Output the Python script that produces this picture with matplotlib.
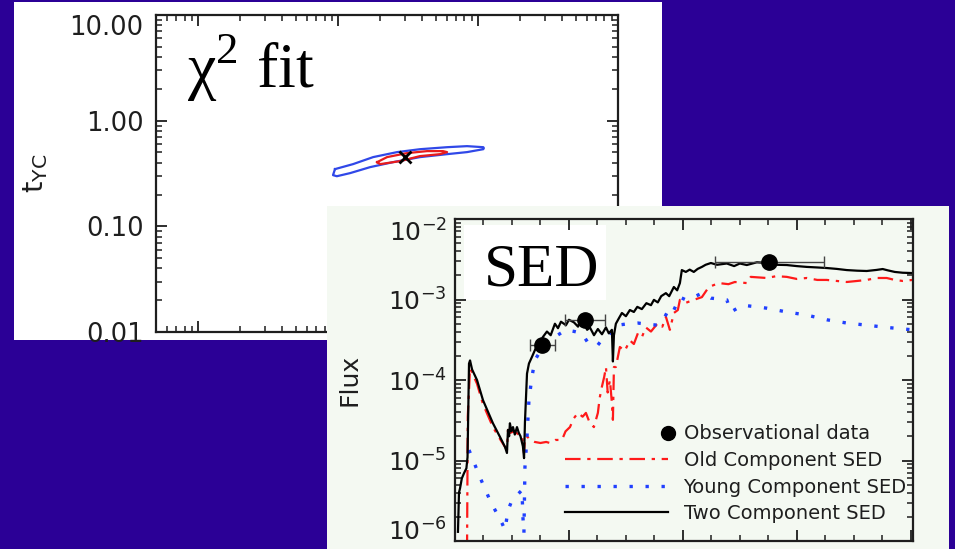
import numpy as np
import matplotlib.pyplot as plt
from matplotlib.patches import Rectangle
from matplotlib.ticker import (LogLocator, FixedLocator, FixedFormatter, MultipleLocator,
                               NullFormatter, LogFormatterSciNotation)
from matplotlib.legend_handler import HandlerLine2D

W, H = 955, 549
bg_blue = '#2b0096'
sed_bg = '#f4f9f2'
ink = '#1e1e1e'

# ---- chi2 panel data (x: log axis 0.005..10, y: t_YC) ----
chi_yticks = [0.01, 0.1, 1.0, 10.0]
chi_ylabels = ['0.01', '0.10', '1.00', '10.00']
best_fit = (0.301, 0.452)
blue_cont_x = [0.095, 0.128, 0.178, 0.264, 0.385, 0.601, 0.834, 1.09, 1.10,
               1.09, 0.834, 0.601, 0.385, 0.247, 0.169, 0.122, 0.098, 0.092, 0.095]
blue_cont_y = [0.348, 0.388, 0.452, 0.504, 0.537, 0.561, 0.574, 0.561, 0.550,
               0.537, 0.504, 0.482, 0.452, 0.405, 0.363, 0.319, 0.298, 0.305, 0.348]
red_cont_x = [0.190, 0.224, 0.311, 0.432, 0.562, 0.601, 0.535, 0.385, 0.277, 0.200, 0.190]
red_cont_y = [0.405, 0.452, 0.493, 0.515, 0.515, 0.504, 0.482, 0.462, 0.414, 0.388, 0.405]

# ---- SED panel data ----
sed_yticks = [1e-6, 1e-5, 1e-4, 1e-3, 1e-2]
two_x = [0.026, 0.035, 0.044, 0.06, 0.08, 0.10, 0.110, 0.123, 0.132, 0.15, 0.193, 0.246,
         0.333, 0.40, 0.439, 0.456, 0.465, 0.475, 0.482, 0.495, 0.509, 0.525, 0.544, 0.560,
         0.575, 0.596, 0.606, 0.614, 0.632, 0.649, 0.675, 0.702, 0.728, 0.755, 0.770, 0.807,
         0.84, 0.877, 0.904, 0.93, 0.974, 1.00, 1.044, 1.08, 1.10, 1.132, 1.16, 1.184, 1.22,
         1.254, 1.29, 1.325, 1.35, 1.377, 1.386, 1.395, 1.412, 1.44, 1.465, 1.50, 1.535, 1.57,
         1.60, 1.64, 1.68, 1.72, 1.746, 1.78, 1.81, 1.851, 1.88, 1.921, 1.95, 1.974, 1.991,
         2.026, 2.06, 2.096, 2.13, 2.167, 2.20, 2.246, 2.30, 2.386, 2.45, 2.50, 2.561, 2.65,
         2.737, 2.82, 2.912, 3.0, 3.088, 3.18, 3.263, 3.35, 3.439, 3.53, 3.614, 3.70, 3.754,
         3.80, 3.860, 3.93, 4.018]
two_f = [1.3e-6, 4.0e-6, 4.5e-6, 6.0e-6, 7.0e-6, 8.0e-6, 1.1e-5, 1.6e-4, 1.75e-4, 1.35e-4, 1.0e-4, 5.6e-5,
         2.9e-5, 1.9e-5, 1.47e-5, 1.24e-5, 2.4e-5, 2.0e-5, 2.9e-5, 2.3e-5, 2.6e-5, 2.1e-5, 2.6e-5, 2.2e-5,
         2.0e-5, 1.5e-5, 1.07e-5, 3.0e-5, 1.2e-4, 1.6e-4, 1.93e-4, 2.36e-4, 2.9e-4, 2.6e-4, 3.4e-4, 4.0e-4,
         3.6e-4, 5.0e-4, 4.4e-4, 5.3e-4, 4.8e-4, 5.6e-4, 5.2e-4, 4.6e-4, 5.6e-4, 5.0e-4, 4.2e-4, 4.5e-4, 3.6e-4,
         4.3e-4, 3.7e-4, 4.5e-4, 3.8e-4, 4.2e-4, 1.7e-4, 3.6e-4, 5.0e-4, 5.9e-4, 6.8e-4, 6.2e-4, 7.4e-4, 7.0e-4,
         8.1e-4, 7.6e-4, 9.0e-4, 8.5e-4, 9.9e-4, 9.2e-4, 1.1e-3, 1.2e-3, 1.1e-3, 1.43e-3, 1.3e-3, 1.6e-3, 2.32e-3,
         2.2e-3, 2.35e-3, 2.2e-3, 2.4e-3, 2.54e-3, 2.7e-3, 2.84e-3, 2.7e-3, 2.8e-3, 2.6e-3, 2.8e-3, 2.68e-3, 2.9e-3,
         2.84e-3, 2.7e-3, 2.68e-3, 2.6e-3, 2.54e-3, 2.5e-3, 2.46e-3, 2.4e-3, 2.32e-3, 2.28e-3, 2.26e-3, 2.33e-3, 2.39e-3,
         2.3e-3, 2.2e-3, 2.15e-3, 2.13e-3]

old_x = [0.105, 0.112, 0.132, 0.193, 0.246, 0.333, 0.40, 0.456, 0.465, 0.482, 0.52, 0.56, 0.588,
         0.606, 0.614, 0.632, 0.66, 0.70, 0.75, 0.80, 0.833, 0.88, 0.939, 0.97, 1.009, 1.04, 1.079,
         1.12, 1.149, 1.18, 1.219, 1.254, 1.27, 1.289, 1.31, 1.325, 1.34, 1.360, 1.375, 1.386, 1.395,
         1.412, 1.447, 1.49, 1.535, 1.57, 1.605, 1.64, 1.675, 1.72, 1.781, 1.82, 1.851, 1.886, 1.921,
         1.956, 1.974, 2.026, 2.096, 2.167, 2.228, 2.316, 2.40, 2.456, 2.561, 2.596, 2.737, 2.82, 2.912,
         3.0, 3.088, 3.18, 3.263, 3.35, 3.439, 3.53, 3.614, 3.70, 3.789, 3.86, 3.93, 4.018]
old_f = [5e-7, 3.5e-5, 1.4e-4, 9.0e-5, 5.0e-5, 2.6e-5, 1.8e-5, 1.35e-5, 2.4e-5, 2.2e-5, 2.3e-5, 2.1e-5, 2.07e-5,
         1.24e-5, 1.96e-5, 2.0e-5, 1.8e-5, 1.7e-5, 1.65e-5, 1.7e-5, 1.65e-5, 1.8e-5, 1.8e-5, 2.3e-5, 2.6e-5, 3.3e-5, 3.9e-5,
         3.5e-5, 3.9e-5, 3.0e-5, 2.6e-5, 3.9e-5, 6.0e-5, 8.2e-5, 1.1e-4, 1.45e-4, 7.0e-5, 1.0e-4, 5.6e-5, 3.2e-5, 1.45e-4,
         1.45e-4, 2.57e-4, 2.3e-4, 3.1e-4, 2.8e-4, 3.8e-4, 3.4e-4, 4.5e-4, 4.0e-4, 5.1e-4, 4.6e-4, 6.1e-4, 4.2e-4, 6.8e-4,
         7.4e-4, 9.9e-4, 9.1e-4, 9.9e-4, 1.07e-3, 1.43e-3, 1.6e-3, 1.55e-3, 1.65e-3, 1.6e-3, 1.91e-3, 1.85e-3, 1.95e-3, 1.91e-3,
         1.8e-3, 1.85e-3, 1.75e-3, 1.75e-3, 1.7e-3, 1.65e-3, 1.7e-3, 1.75e-3, 1.85e-3, 1.85e-3, 1.75e-3, 1.7e-3, 1.75e-3]

young_x = [0.123, 0.219, 0.307, 0.412, 0.439, 0.465, 0.500, 0.544, 0.588, 0.596, 0.605, 0.614, 0.632,
           0.649, 0.675, 0.702, 0.75, 0.833, 0.90, 0.974, 1.05, 1.114, 1.167, 1.21, 1.254, 1.30, 1.360,
           1.430, 1.52, 1.605, 1.70, 1.781, 1.84, 1.886, 1.921, 1.974, 2.026, 2.096, 2.167, 2.246, 2.386,
           2.421, 2.526, 2.737, 2.912, 3.088, 3.263, 3.439, 3.614, 3.789, 4.018]
young_f = [1.35e-5, 6.2e-6, 3.2e-6, 1.67e-6, 1.37e-6, 2.4e-6, 3.2e-6, 3.7e-6, 4.3e-6, 2.0e-6, 1.26e-6, 8.3e-6, 1.96e-5,
           5.6e-5, 1.09e-4, 1.77e-4, 2.3e-4, 3.1e-4, 3.6e-4, 4.2e-4, 4.0e-4, 3.8e-4, 2.9e-4, 3.0e-4, 2.72e-4, 3.3e-4, 3.8e-4,
           4.8e-4, 5.0e-4, 5.1e-4, 4.9e-4, 4.8e-4, 6.0e-4, 8.1e-4, 7.4e-4, 1.07e-3, 9.9e-4, 1.07e-3, 1.2e-3, 1.04e-3, 9.9e-4,
           7.0e-4, 8.5e-4, 7.8e-4, 7.0e-4, 6.4e-4, 5.6e-4, 5.1e-4, 4.8e-4, 4.5e-4, 4.2e-4]

obs_x = [0.767, 1.14, 2.76]
obs_f = [2.72e-4, 5.6e-4, 2.92e-3]
obs_xerr = [0.11, 0.175, 0.48]

legend_labels = ['Observational data', 'Old Component SED', 'Young Component SED', 'Two Component SED']


def px_box(x0, y0, x1, y1):
    return [x0 / W, 1 - y1 / H, (x1 - x0) / W, (y1 - y0) / H]


class MarkerAtRight(HandlerLine2D):
    # IDL-style legend: the symbol sits at the right end of the handle
    def create_artists(self, *args, **kwargs):
        arts = super().create_artists(*args, **kwargs)
        for a in arts:
            a.set_markevery([2])
        return arts


fig = plt.figure(figsize=(W / 100, H / 100), dpi=100, facecolor=bg_blue)

# white card behind chi2 plot
fig.add_artist(Rectangle((14 / W, 1 - 340 / H), (662 - 14) / W, (340 - 2) / H,
                         transform=fig.transFigure, fc='white', ec='none', zorder=0))

ax1 = fig.add_axes(px_box(156, 15, 618, 332), zorder=1)
ax1.set_facecolor('white')
ax1.set_xscale('log')
ax1.set_yscale('log')
ax1.set_xlim(0.005, 10)
ax1.set_ylim(0.01, 10)
ax1.plot(blue_cont_x, blue_cont_y, color='#3048e8', lw=1.6)
ax1.plot(red_cont_x, red_cont_y, color='#e81c1c', lw=1.6)
ax1.plot(*best_fit, marker='x', color='black', ms=9, mew=2)
ax1.yaxis.set_major_locator(FixedLocator(chi_yticks))
ax1.yaxis.set_major_formatter(FixedFormatter(chi_ylabels))
ax1.yaxis.set_minor_locator(LogLocator(subs=np.arange(2, 10)))
ax1.yaxis.set_minor_formatter(NullFormatter())
ax1.xaxis.set_major_formatter(NullFormatter())
ax1.xaxis.set_minor_formatter(NullFormatter())
ax1.tick_params(which='both', direction='in', top=True, right=True, colors=ink,
                labelsize=18.5, pad=9)
ax1.tick_params(which='major', length=8, width=1.3)
ax1.tick_params(which='minor', length=4, width=1.1)
for s in ax1.spines.values():
    s.set_linewidth(1.6)
    s.set_color(ink)
ax1.yaxis.get_major_ticks()[-1].label1.set_va('top')
ax1.set_ylabel(r't$_\mathdefault{YC}$', fontsize=21, color=ink, labelpad=14)
ax1.text(0.067, 0.77, r'χ$^\mathdefault{2}$ fit', transform=ax1.transAxes,
         family='Liberation Serif', fontsize=46, color='black', va='baseline')

# light card behind SED plot
fig.add_artist(Rectangle((327 / W, 0), (949 - 327) / W, (549 - 206) / H,
                         transform=fig.transFigure, fc=sed_bg, ec='none', zorder=1.5))

ax2 = fig.add_axes(px_box(455, 219, 913, 541), zorder=2)
ax2.set_facecolor(sed_bg)
ax2.set_yscale('log')
ax2.set_xlim(0, 4.02)
ax2.set_ylim(1e-6, 1e-2)
ax2.add_patch(Rectangle((0.02, 0.748), 0.31, 0.233, transform=ax2.transAxes,
                        fc='white', ec='none', zorder=0.5))
ax2.text(0.063, 0.795, 'SED', transform=ax2.transAxes, family='Liberation Serif',
         fontsize=44, color='black', va='baseline', zorder=1)

old_line, = ax2.plot(old_x, old_f, color='#ff1a1a', lw=1.6, ls=(0, (7, 3, 1.5, 3)))
young_line, = ax2.plot(young_x, young_f, color='#2040ff', lw=2.4, ls=(0, (1, 3.8)))
two_line, = ax2.plot(two_x, two_f, color='black', lw=1.6)
ax2.errorbar(obs_x, obs_f, xerr=obs_xerr, fmt='o', color='black', ms=11,
             elinewidth=1.0, ecolor='#444444', capsize=4, zorder=4)
obs_handle = plt.Line2D([], [], ls='none', marker='o', color='black', ms=10)

ax2.xaxis.set_major_locator(MultipleLocator(1))
ax2.xaxis.set_minor_locator(MultipleLocator(0.25))
ax2.xaxis.set_major_formatter(NullFormatter())
ax2.yaxis.set_major_locator(FixedLocator(sed_yticks))
ax2.yaxis.set_major_formatter(LogFormatterSciNotation())
ax2.yaxis.set_minor_locator(LogLocator(subs=np.arange(2, 10)))
ax2.yaxis.set_minor_formatter(NullFormatter())
ax2.tick_params(which='both', direction='in', top=True, right=True, colors=ink,
                labelsize=18, pad=6)
ax2.tick_params(which='major', length=8, width=1.3)
ax2.tick_params(which='minor', length=4, width=1.1)
for s in ax2.spines.values():
    s.set_linewidth(1.6)
    s.set_color(ink)
sed_ticks = ax2.yaxis.get_major_ticks()
sed_ticks[0].label1.set_va('baseline')
sed_ticks[-1].label1.set_va('top')
ax2.set_ylabel('Flux', fontsize=18, color=ink, labelpad=19)

leg = ax2.legend([obs_handle, old_line, young_line, two_line], legend_labels,
                 loc='upper left', bbox_to_anchor=(0.24, 0.362), frameon=False,
                 fontsize=14, handlelength=5.3, handletextpad=0.8, labelspacing=0.39,
                 borderpad=0, borderaxespad=0, numpoints=1,
                 handler_map={obs_handle: MarkerAtRight(numpoints=1)})
for t in leg.get_texts():
    t.set_color(ink)

fig.savefig('out.png', dpi=100, facecolor=bg_blue)
